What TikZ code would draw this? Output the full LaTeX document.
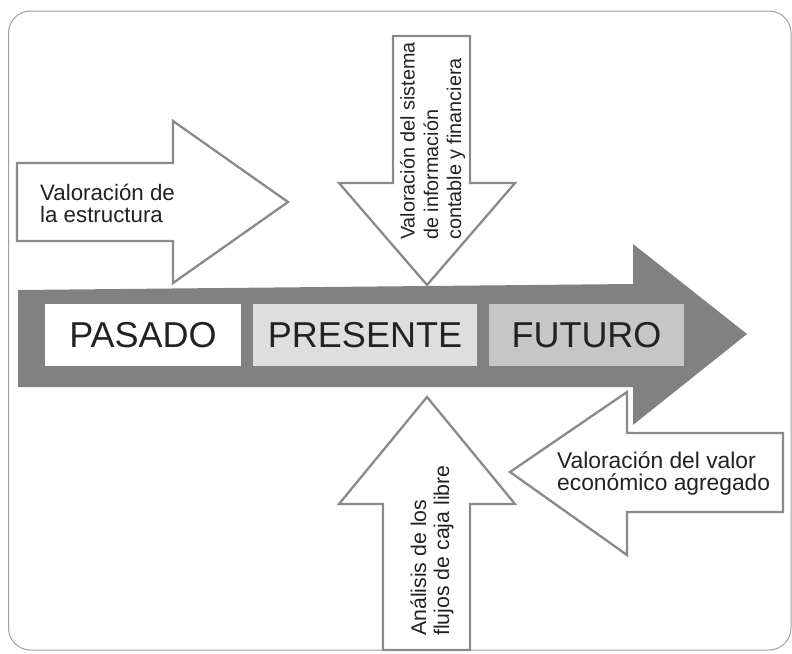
\documentclass[tikz,border=0pt]{standalone}
\usepackage{fontspec}
\setmainfont{Liberation Sans}
\definecolor{bargray}{HTML}{818181}
\definecolor{linegray}{HTML}{8A8A8A}
\definecolor{framegray}{HTML}{A0A0A0}
\definecolor{presfill}{HTML}{DEDEDE}
\definecolor{futfill}{HTML}{C6C6C6}
\definecolor{txt}{HTML}{222222}
\tikzset{
  outarrow/.style={draw=linegray, line width=2.3pt, fill=white, line join=miter},
  lbl/.style={inner sep=0pt, text=txt, anchor=base west},
  period/.style={inner sep=0pt, minimum height=62pt, text=txt, font=\fontsize{36}{36}\selectfont},
}
\begin{document}
\begin{tikzpicture}[x=1pt,y=-1pt]
\useasboundingbox (0,0) rectangle (792,653);
% frame
\draw[framegray, line width=1pt, rounded corners=22pt] (8.5,11) rectangle (791,650);
% left arrow
\draw[outarrow] (17,163) -- (173,163) -- (173,121) -- (288,202) -- (173,283) -- (173,241) -- (17,241) -- cycle;
\node[lbl, font=\fontsize{22.3}{22}\selectfont] (l1) at (40,200) {Valoración de};
\node[lbl, font=\fontsize{22.3}{22}\selectfont] (l2) at (40,222) {la estructura};
% down arrow
\draw[outarrow] (393,36) -- (470,36) -- (470,183) -- (515,183) -- (427,285) -- (339,183) -- (393,183) -- cycle;
\node[lbl, rotate=90, font=\fontsize{19.8}{20}\selectfont] (d1) at (414.5,240) {Valoración del sistema};
\node[lbl, rotate=90, font=\fontsize{19.8}{20}\selectfont] (d2) at (438,240) {de información};
\node[lbl, rotate=90, font=\fontsize{19.8}{20}\selectfont] (d3) at (461,240) {contable y financiera};
% big arrow
\fill[bargray] (18,290) -- (633,284) -- (633,244) -- (747,334) -- (633,425) -- (633,387) -- (18,387) -- cycle;
\node[period, fill=white, minimum width=196pt] (pasado) at (143,335) {PASADO};
\node[period, fill=presfill, minimum width=224pt] (presente) at (365,335) {PRESENTE};
\node[period, fill=futfill, minimum width=195pt] (futuro) at (586.5,335) {FUTURO};
% up arrow
\draw[outarrow] (383,650) -- (383,504) -- (339,504) -- (427,397) -- (515,504) -- (470,504) -- (470,650) -- cycle;
\node[lbl, rotate=90, font=\fontsize{21.3}{21}\selectfont] (u1) at (426,636) {Análisis de los};
\node[lbl, rotate=90, font=\fontsize{21.3}{21}\selectfont] (u2) at (449,636) {flujos de caja libre};
% right arrow (pointing left)
\draw[outarrow] (783,433) -- (627,433) -- (627,392) -- (510,472) -- (627,555) -- (627,512) -- (783,512) -- cycle;
\node[lbl, font=\fontsize{22.8}{22}\selectfont] (r1) at (557,468) {Valoración del valor};
\node[lbl, font=\fontsize{22.8}{22}\selectfont] (r2) at (557,490) {económico agregado};
\end{tikzpicture}
\end{document}
